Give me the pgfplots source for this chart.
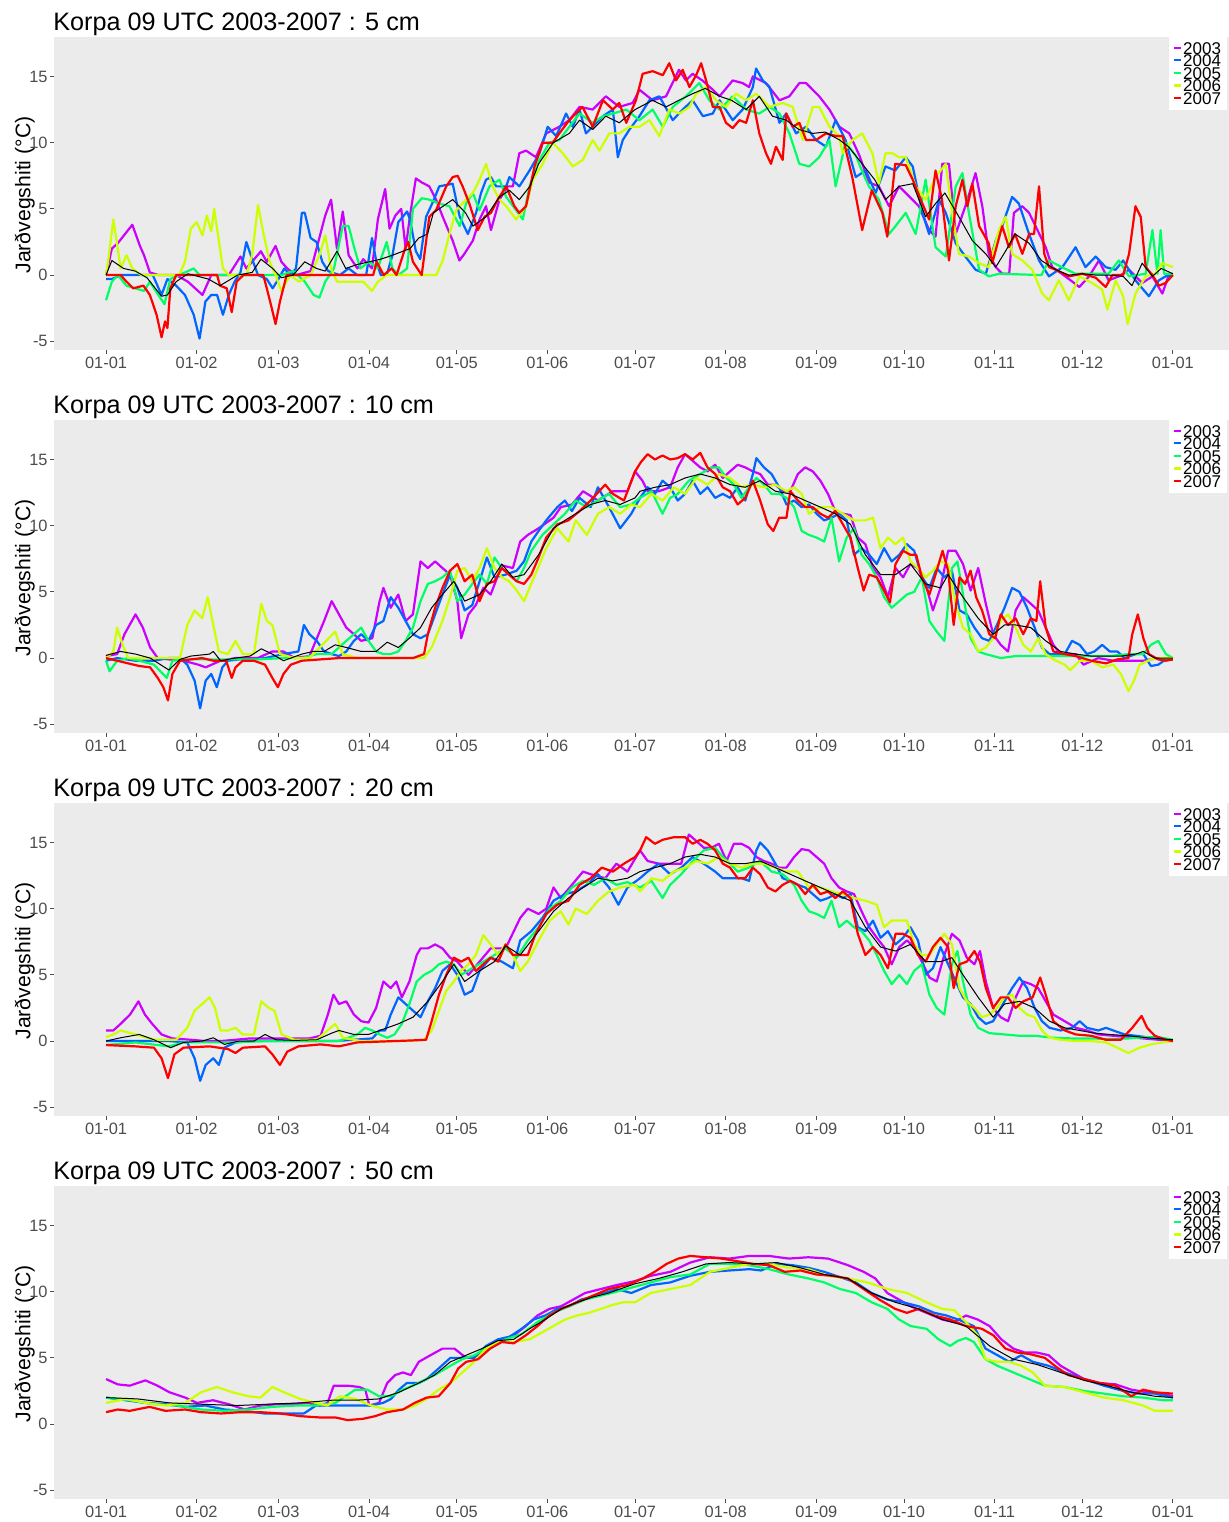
\documentclass[border=0pt]{standalone}
\usepackage{fontspec}
\setmainfont{Liberation Sans}
\usepackage{pgfplots}
\pgfplotsset{compat=1.18}
\definecolor{c03}{HTML}{CC00FF}
\definecolor{c04}{HTML}{0066FF}
\definecolor{c05}{HTML}{00FF66}
\definecolor{c06}{HTML}{CCFF00}
\definecolor{c07}{HTML}{FF0000}
\definecolor{bg}{HTML}{EBEBEB}
\definecolor{tk}{HTML}{4D4D4D}
\pgfplotsset{korpa/.style={
  scale only axis, width=587.5pt, height=156.5pt,
  xmin=-17.8, xmax=384.2, ymin=-5.66, ymax=17.98,
  axis background/.style={fill=bg},
  axis line style={draw=none},
  xtick={0,31,59,90,120,151,181,212,243,273,304,334,365},
  xticklabels={01-01,01-02,01-03,01-04,01-05,01-06,01-07,01-08,01-09,01-10,01-11,01-12,01-01},
  ytick={-5,0,5,10,15}, yticklabels={-5,0,5,10,15},
  tick pos=left, tick align=outside, major tick length=2pt,
  tick style={draw=tk, line width=0.4pt},
  ticklabel style={font=\fontsize{8.2}{9}\selectfont, text=tk},
  yticklabel style={inner sep=1pt},
  xticklabel style={inner sep=1.5pt},
  legend style={at={(axis description cs:1,1)}, anchor=north east, xshift=-1pt, yshift=1pt,
    draw=none, fill=white, inner xsep=2.3pt, inner ysep=3pt,
    font=\fontsize{8.5}{8.5}\selectfont, row sep=0pt, column sep=0pt,
    nodes={inner xsep=0.5pt, inner ysep=0pt, text height=6.3pt, text depth=0pt}, cells={anchor=west}},
  legend image code/.code={\draw[#1, line width=1.1pt] (0pt,0pt) -- (3.4pt,0pt);},
  legend entries={2003,2004,2005,2006,2007},
  every axis plot/.append style={line width=1.1pt, line join=round},
}}
\newcommand{\ptitle}[2]{\node[anchor=base west, inner sep=0pt, font=\fontsize{12.6}{14}\selectfont] at (26.5pt,{-15.35pt-#1*191.5pt}) {Korpa 09 UTC 2003-2007 : #2 cm};
\node[rotate=90, anchor=base, inner sep=0pt, font=\fontsize{10.6}{12}\selectfont] at (15.25pt,{-97.5pt-#1*191.5pt}) {Jarðvegshiti (°C)};}
\begin{document}
\begin{tikzpicture}
\path[use as bounding box] (0,0) rectangle (614.5pt,-761pt);
% ---------------- 5 cm
\ptitle{0}{5}
\begin{axis}[korpa, at={(27pt,-18.5pt)}, anchor=north west]
\addplot[c03] coordinates {(0,0)(2,2)(4,2.4)(9,3.8)(11.6,2.2)(13,1.5)(15,0.2)(18,0)(24,0)(28,-0.5)(33,-1.5)(36,0)(42,0)(46,1.4)(48,0.5)(53,1.8)(55,1)(58,2.2)(60,1)(62,0.5)(65,0)(70,0.3)(75,4.5)(77,5.7)(79,2)(81,4.8)(83,1.5)(86,0.5)(88,1.2)(91,0.5)(93,4.2)(95.5,6.5)(97,3.5)(99,4.5)(101,5)(102.5,2)(104,4.5)(106,7.3)(108,7)(110.6,6.7)(112.9,5.7)(115.2,4.4)(118.6,2.6)(120.9,1.1)(122.6,1.6)(125.5,2.6)(127.8,4.2)(130,5.2)(131.7,3.4)(134.6,5.7)(137.4,6.7)(139.2,6.7)(141.4,9.2)(143.7,9.4)(147.1,8.9)(150.6,10.7)(155.1,11.2)(158.5,11.7)(162,12.7)(166.5,12.5)(171,13.5)(175.6,12.7)(180.2,13)(182.5,14)(187,13.2)(191.6,13.5)(196,15.5)(198.4,14.7)(200.7,15.2)(204,14.7)(207.6,14)(209.9,13.5)(214.4,14.7)(217.8,14.5)(220,14.2)(221.3,15)(225.8,14.5)(230.4,13.2)(233.8,13.5)(237.2,14.5)(239.5,14.5)(244,13.5)(247.5,12.5)(250.9,11.2)(254.3,10.7)(257.8,9)(261,7)(264.4,6.7)(267.9,5.2)(271.3,6.7)(273.6,6.2)(278.1,5.2)(281.6,3.4)(283.8,2.9)(286.1,8.4)(288.4,8.4)(290.7,3.1)(294,5.2)(297.5,7.7)(299.8,5.2)(302,1.6)(304.4,0.6)(306.6,0.1)(309,0.1)(310.6,4.7)(313.5,5.2)(315.8,4.7)(318,3.7)(321.5,2.1)(323.7,0.6)(327,0.1)(333,-0.9)(336.3,-0.1)(339.7,1.1)(343,-0.4)(346.5,-0.1)(350,0.4)(354.5,-0.6)(358,-0.1)(361.4,-1.4)(363.6,0)(365,0)};
\addplot[c04] coordinates {(0,-0.3)(2,-0.3)(5,0)(16,0)(17,-0.5)(19,-1.5)(21,-0.3)(24,-0.8)(27,-1.5)(30,-3)(32,-4.8)(34,-2)(36,-1.5)(38,-1.5)(40,-3)(42,-1.5)(44,-0.5)(46,0.2)(48,2.5)(50,1.2)(52,0)(55,-0.3)(57,-1)(59,-0.3)(61,0.5)(63,0)(65,0.5)(67,4.7)(68,4.7)(70,2.8)(72,2.5)(74,1)(76,0.3)(80,0)(83,0.5)(86,0)(89,0)(91,2.8)(92.5,1)(94,0)(96,0)(98,1.5)(100,4)(103,4.8)(104,4.2)(106,1.8)(107.5,1.2)(109.5,4.4)(112,5.6)(114,6.7)(118.6,6.9)(121,4.4)(123.8,3.1)(126.6,4.7)(128.3,6.2)(130,7.2)(131.7,7.4)(133.5,6.7)(136.9,6.7)(138,7.4)(141.4,6.7)(144.9,7.9)(148.3,9.2)(151.1,11.2)(154,10.5)(157.4,12.2)(159.7,11.2)(162,12.5)(164.2,10.7)(166.5,11.2)(170,12)(173.4,12.5)(175.1,8.9)(176.8,10.2)(179.1,11)(182.5,12)(185.9,13.2)(189.3,13.5)(193.9,11.7)(197.3,12.5)(200.7,13.2)(204.2,12)(207.6,12.2)(209.9,13.2)(214.4,11.7)(217.8,12.5)(221.3,14.2)(222.4,15.6)(224.7,14.7)(227,14.2)(230.4,11.5)(232.7,12.2)(236.1,10.7)(239.5,11.2)(242.9,10.2)(246.3,9.7)(249.6,11.7)(253,10.2)(256.5,7.4)(259.9,7.9)(263.3,6.2)(266.7,8.2)(270,7.9)(273.6,8.9)(276,8.2)(279.3,4.7)(281.6,3.1)(285,5.7)(287.3,4.7)(290.7,2.4)(294,1.4)(297.5,0.4)(301,0.1)(304.4,2.6)(306.6,3.7)(310,5.9)(312.3,5.4)(315.8,3.1)(319.2,1.1)(322.6,-0.1)(327.2,0.6)(331.7,2.1)(335.1,0.6)(338.6,1.4)(342,0.6)(345.4,0.4)(348,1.1)(352.2,-0.4)(356.8,-1.6)(360.2,-0.4)(362.5,-0.1)(365,0)};
\addplot[c05] coordinates {(0,-1.9)(2,-0.5)(4,0)(7,-0.8)(10,-1)(13,-1.2)(15,-0.5)(17,-1.2)(20,-2.2)(22,-0.3)(25,0)(30,0.5)(32,0)(60,0)(64,0.3)(68,-0.5)(71,-1.5)(73,-1.7)(75,-0.5)(78,0.5)(81,3.7)(83,3.7)(85,2)(87,0.5)(90,1)(93,0.5)(96,2.5)(98,0.5)(100,0)(103,0.5)(105,5)(108,5.8)(110.6,5.7)(114,5.4)(117.5,5.2)(121,3.7)(123.2,5.4)(125.5,6.2)(127.8,4.9)(131.2,6.7)(134.6,7.2)(136.9,5.9)(140.3,4.9)(142.6,4.2)(144.9,6.7)(148.3,8.7)(151.7,10)(155.1,10.2)(158.5,11.2)(162,12.2)(166.5,11.5)(170,12)(173.4,12.2)(178,12.5)(182.5,11.7)(187,12.5)(190.5,11.2)(193.9,12.7)(198.4,13.5)(203,14.5)(206.4,13.2)(209.9,12.5)(214.4,13.5)(219,12.5)(223.5,12.2)(227,12.7)(230.4,12.2)(233.8,10.7)(237.2,8.4)(240.6,8.2)(244,8.9)(247.5,10.2)(249.6,6.7)(253,10)(256.6,9)(258,8.2)(261,6.7)(264.4,5.7)(267.9,3.1)(270.1,3.7)(273.6,4.7)(277,3.1)(280.4,7.2)(283.8,2.1)(287.3,1.4)(290.7,6.7)(293,7.7)(295.2,4.7)(298.7,0.4)(302,-0.1)(305.5,0.1)(320,0)(322.6,1.1)(327,0.6)(331.7,0.1)(343,0.1)(346.5,1.1)(350,-0.1)(355.7,0.1)(358,3.4)(359.7,0.1)(360.8,3.4)(362,0.1)(365,0.1)};
\addplot[c06] coordinates {(0,0)(1,1.5)(2.5,4.2)(4,2)(5,0.5)(7,1.5)(9,0.5)(12,0)(25,0)(27,1)(29,3.5)(31,4)(33,3)(34.5,4.5)(36,3.3)(37,5)(39,2)(40,0.5)(42,0)(48,0)(50,1.5)(52,5.3)(54,3)(56,1)(58,0)(60,-1.2)(63,0)(66,-0.5)(70,0)(73,1.5)(75,3)(77,0.5)(79,-0.5)(86,-0.5)(88,-0.5)(91,-1.2)(93,-0.5)(96,0)(113,0)(115.2,1.1)(117.5,3.1)(119.8,4.9)(123.2,5.7)(125.5,6.2)(127.8,7.2)(130,8.4)(132.3,6.7)(134.6,5.7)(136.9,5.2)(140.3,4.2)(143.7,5.2)(146,7.2)(149.4,8.4)(152.8,10)(156.3,9.2)(159.7,8.2)(163.1,8.7)(166.5,10.2)(168.8,9.4)(172.2,10.7)(175.6,10.7)(179.1,11.2)(182.5,11.2)(185.9,11.7)(189.3,10.5)(192.7,12.5)(196.2,12.2)(199.6,12.7)(201.9,13.7)(205.3,14.2)(208.7,13.2)(212.1,12.7)(215.6,13.7)(219,13.2)(222.4,13.7)(227,12.7)(231.5,13)(234.9,12.7)(238.4,10.2)(241.8,12.7)(244,12.7)(247.5,11.2)(250.8,10.5)(252,9.2)(255.4,10.2)(258.7,10.7)(262.2,9.2)(264.4,6.9)(266.7,9.2)(269,9.2)(271.3,8.9)(273.6,8.9)(277,6.7)(280.4,5.7)(283.8,7.4)(287.3,8.4)(289.5,4.7)(291.8,1.6)(295.2,1.4)(298.7,0.9)(302,0.6)(305.5,3.4)(307.8,4.4)(310,1.6)(313.5,1.1)(316.9,0.4)(320.3,-1.4)(322.6,-1.9)(326,-0.4)(329.4,-1.9)(333,-0.1)(337.4,-0.6)(340.8,-1.1)(342.6,-2.6)(345.4,-0.4)(348,-1.6)(349.5,-3.7)(352.2,-1.4)(355.7,-0.1)(359,0.1)(361.4,0.9)(365,0.6)};
\addplot[c07] coordinates {(0,0)(5,0)(7,-0.5)(9.3,-1)(12.8,-0.8)(15,-1.5)(17.3,-3)(19,-4.7)(20.2,-3.5)(21,-4)(22,-1)(24,0)(38,0)(39,-0.8)(41.3,-1)(43,-2.8)(44.7,-0.5)(47,0)(53.8,0)(55,-1)(56.7,-2.5)(58,-3.7)(59.5,-2)(61.8,0)(91.4,0)(92.6,1)(95,0)(97.7,0.5)(99.4,0)(102.3,2)(103.4,2.5)(105,1)(108,0)(110.6,4.4)(112.9,4.9)(116.4,6.7)(118.6,7.4)(120.3,7.5)(122,6.7)(124.3,5.4)(127.2,3.4)(129.5,4.4)(131.7,4.7)(134,5.7)(136.9,6.7)(139.7,5.2)(141.4,4.7)(143.7,5.2)(146.6,8.2)(149.4,10)(152.8,10)(155.1,10.7)(158.5,11.7)(163,12.7)(166.5,11.2)(170,13.2)(173.4,12.5)(175.6,13)(178,11.5)(181.3,13.2)(183.6,15.2)(187,15.4)(190.5,15.1)(192.7,16)(195,14.7)(197.3,15.5)(199.6,14.2)(201.9,15.1)(203.6,16)(205.3,14.7)(207.6,12.7)(209.9,12.7)(212.1,11.5)(214.4,11.1)(216.7,11.7)(219,11.5)(221.3,13.2)(223.5,10.7)(225.8,9.2)(227.5,8.4)(229.2,9.7)(231.5,8.7)(232.7,12.2)(234.9,11.2)(237.2,11.5)(239.5,10.2)(242.9,10.2)(246.3,10.7)(249.8,10.5)(252,10.5)(255.3,7.4)(258.7,3.4)(262,6.4)(265.6,4.7)(267.3,2.9)(270,8.4)(273.6,8.3)(276,7.2)(279.3,5.4)(281.6,4.2)(283.8,7.9)(286,5.7)(288.4,1.1)(290.7,5.2)(293,7.2)(294.7,5.2)(296.4,6.9)(298.7,3.7)(302,2.4)(303.2,0.9)(306.6,3.7)(308.9,2.1)(311,3.1)(313.5,1.6)(315.8,3.1)(317.5,3.1)(319.2,6.7)(321,1.6)(322.6,0.6)(325,0.4)(329.4,-0.1)(334,0.1)(338.6,-0.2)(342,-0.9)(344.3,0)(348,0)(350,1.6)(352.2,5.2)(354,4.4)(355.7,0.6)(358,0)(360.2,-0.8)(362.5,-0.6)(365,0)};
\addplot[black, line width=0.5pt, forget plot] coordinates {(0,0)(2,1.1)(6,0.5)(10,0.3)(14,-0.2)(19,-1.6)(21,-1.5)(24,-0.5)(28,0.1)(35,-0.3)(39,-0.8)(45,0)(50,0.2)(53,1.2)(57,0.5)(60,-0.2)(64,0)(68,1)(72,0.5)(75,0.3)(79,1.8)(82,0.5)(86,0.8)(90,1)(94,1.2)(98,1.5)(104,2)(107,2.8)(110,3.1)(112,4.7)(118.6,5.7)(123,4.7)(125.5,3.7)(130,4.4)(134.6,5.9)(138,6.4)(141.4,5.7)(145,6.7)(148,8.4)(153,10)(158.5,10.7)(162,11.7)(166.5,11)(171,12)(175.6,11.5)(181,12.5)(187,13.2)(191.6,12.7)(196,13.2)(200.7,13.7)(205,14.1)(210,13.5)(214,13.2)(219,12.5)(223.5,13.5)(228,12)(232.7,11.7)(237,11)(241.8,10.7)(246,10.8)(251,10.2)(254,9.7)(258.7,8.4)(263,7.2)(266.7,5.7)(271.3,6.7)(276,6.9)(280.4,4.4)(283.8,5.4)(287,6.2)(291.8,4.4)(296.4,2.6)(301,1.6)(304.4,0.6)(308,1.9)(311,3.1)(315.8,2.4)(320,1.1)(325,0.4)(329.4,0)(334,0.1)(338.6,0)(343,0)(348,-0.1)(351,-0.8)(354.5,0.9)(358,-0.1)(361,0.5)(365,0.1)};
\end{axis}
% ---------------- 10 cm
\ptitle{1}{10}
\begin{axis}[korpa, at={(27pt,-210pt)}, anchor=north west]
\addplot[c03] coordinates {(0,0.15)(3.8,0.3)(6.3,1.8)(10.1,3.3)(12.6,2.3)(15.1,0.8)(17.7,0)(21.5,-0.1)(26.5,-0.2)(31.6,-0.5)(34.1,-0.7)(39.2,-0.2)(44.3,0)(51.9,0)(56.9,0.5)(60.7,0.5)(64.5,0)(69.6,0.15)(74.6,2.8)(77.2,4.3)(79.7,3.3)(82.2,2.3)(84.8,1.8)(87.3,1.3)(91.1,1.5)(93.6,4.3)(94.9,5.3)(97.4,3.8)(100,4.8)(102.5,2.8)(105,3.3)(107.6,7.3)(110.1,6.8)(112.6,7.3)(115.1,6.8)(117.7,6.3)(120.2,4.3)(121.5,1.5)(124,3.3)(126.5,4)(129.1,5.3)(131.6,4.8)(135.4,7)(139.2,6.8)(141.7,8.8)(144.3,9.3)(148,9.8)(153.1,10.6)(155.6,11.4)(159.4,11.6)(163.2,12.6)(168.3,11.9)(173.4,12.6)(178.4,12.6)(181,14.1)(183.5,13.4)(185.3,12.6)(189.1,12.6)(193,12.9)(195.6,14.4)(198.1,15.4)(200.7,14.9)(203.3,14.4)(205.8,14.1)(208.4,14.6)(211,13.6)(213.5,14.1)(216.1,14.6)(218.7,14.4)(221.3,14.1)(223.8,13.9)(226.4,13.1)(229,13.1)(231.5,12.6)(234.1,12.6)(236.7,13.9)(239.2,14.4)(241.8,14.1)(244.4,13.4)(247,12.4)(249.5,11.1)(252.1,10.9)(254.7,10.8)(257.2,9.1)(259.8,8.6)(262.4,6.8)(265,6.1)(267.5,4.6)(270.1,6.8)(272.7,6.1)(275.2,7.1)(277.8,6.8)(280.4,5.6)(282.9,3.6)(285.5,5.3)(288.1,8.1)(290.7,8.1)(293.2,7.1)(295.8,5.1)(298.4,6.8)(301,4.1)(303.5,1.8)(306.1,1)(308.6,0.5)(311.2,3.6)(313.8,4.6)(316.4,4.1)(318.9,3.6)(321.5,2.3)(324.1,1)(326.6,0.3)(331.8,0.3)(334.4,-0.5)(339.5,0)(344.6,-0.2)(349.8,-0.2)(354.9,-0.2)(360,0)(365,-0.1)};
\addplot[c04] coordinates {(0,-0.2)(3.8,0)(10.1,-0.2)(16.4,-0.2)(21.5,0)(25.3,0)(27.8,-0.5)(30.3,-1.7)(32.2,-3.8)(34.1,-1.7)(36,-1.2)(37.9,-2.2)(39.8,-0.7)(41.7,-0.2)(45.5,-0.1)(50.6,-0.1)(54.4,0)(60.7,0.3)(65.8,0.5)(67.7,2.5)(69.6,1.8)(72.1,1.3)(74.6,0.5)(77.2,0.3)(79.7,0.15)(82.2,0.5)(84.8,1.3)(87.3,1.8)(89.8,1.3)(92.4,2.5)(94.9,2.8)(97.4,4.6)(100,3.8)(102.5,2.8)(105,1.8)(107.6,1.5)(110.1,1.8)(112.6,3.3)(115.1,4.8)(117.7,6.3)(120.2,5.3)(122.7,3.6)(125.3,4)(127.8,5.8)(130.3,7.6)(132.9,6.1)(136.7,6.3)(140.5,6.6)(143,7.3)(145.5,8.8)(148,9.6)(150.6,10.4)(154.4,11.4)(157,11.9)(159.4,11.1)(162,12.1)(165.8,11.4)(168.3,12.9)(172.1,11.4)(175.9,9.8)(179.7,10.9)(182.7,12.1)(185.3,12.9)(187.8,12.4)(190.4,13.4)(193,12.9)(195.6,11.9)(198.1,12.4)(200.7,13.4)(203.3,12.4)(205.8,12.9)(208.4,12.1)(211,12.4)(213.5,12.1)(216.1,12.9)(218.7,11.9)(221.3,13.9)(222.5,15.1)(225.1,14.4)(227.7,13.9)(230.3,12.9)(232.8,11.6)(235.4,11.9)(238,11.4)(240.5,11.6)(243.1,10.9)(245.7,10.4)(248.2,10.6)(250.8,10.9)(253.4,10.4)(255.9,7.8)(258.5,8.3)(261.1,7.8)(263.7,7.1)(266.2,8.3)(268.8,7.3)(271.4,7.8)(274,8.6)(276.5,8.1)(279.1,6.1)(281.7,5.3)(284.2,6.8)(286.8,6.1)(289.4,6.6)(292,3.6)(294.5,3.3)(297.1,2.3)(299.7,1.5)(302.2,1.3)(304.8,2.5)(307.4,3.8)(310,5.3)(312.5,5)(315.1,3.8)(317.7,2.3)(320.2,0.8)(322.8,0.3)(328,0.3)(330.5,1.3)(333.1,1)(335.6,0.3)(338.2,0.5)(340.8,1)(343.4,0.5)(346,0.5)(348.5,0)(352.3,0.3)(354.9,0.3)(357.5,-0.6)(360,-0.5)(362.6,-0.1)(365,-0.1)};
\addplot[c05] coordinates {(0,-0.2)(1.2,-1)(3.8,-0.2)(7.6,0)(11.4,-0.2)(16.4,-0.5)(20.8,-1.5)(22.7,-0.2)(26.5,-0.1)(35.4,-0.1)(44.3,-0.1)(51.9,-0.1)(60.7,0)(67,0)(72.1,0.3)(77.2,0.3)(82.2,1.3)(84.8,1.8)(87.3,2.3)(89.8,1.3)(92.4,0.5)(94.9,0.3)(97.4,0.3)(100,0.5)(102.5,1.3)(105,2.3)(107.6,4.3)(110.1,5.6)(112.6,5.8)(115.1,6.1)(117.7,6.6)(120.2,4.3)(122.7,4.8)(125.3,5.6)(127.8,6.3)(130.3,5.6)(132.9,7.6)(135.4,6.8)(137.9,6.3)(140.5,5.8)(143,6.8)(145.5,8.1)(149.3,9.3)(153.1,10.1)(157,10.9)(160.7,11.9)(164.5,11.4)(168.3,11.9)(172.1,12.4)(175.9,11.4)(179.7,11.6)(182.7,12.1)(186.6,12.6)(190.4,10.9)(193,12.1)(195.6,12.4)(199.4,13.4)(203.3,13.9)(207.1,14.4)(209.7,14.4)(212.3,13.6)(214.8,13.1)(217.4,12.1)(220,12.9)(222.5,13.6)(225.1,13.1)(227.7,12.4)(230.3,12.4)(232.8,12.1)(235.4,11.4)(238,9.6)(240.5,9.3)(243.1,9.1)(245.7,8.8)(248.2,10.6)(250.8,7.3)(253.4,9.1)(255.9,9.8)(258.5,7.8)(261.1,7.1)(263.7,6.1)(266.2,4.6)(268.8,3.8)(271.4,4.3)(274,4.8)(276.5,5)(279.1,6.1)(281.7,2.8)(284.2,2)(286.8,1.3)(289.4,6.8)(291.3,7.3)(293.2,4.8)(295.8,1.5)(298.4,0.5)(301,0.3)(306.1,0)(311.2,0.15)(317.7,0.15)(324.1,0.15)(330.5,0.15)(337,0.15)(343.4,0.15)(349.8,0.3)(354.9,0.3)(357.5,1)(360,1.3)(362.6,0.3)(365,0)};
\addplot[c06] coordinates {(0,0)(2.5,0.5)(3.8,2.3)(5.7,1)(7.6,0)(16.4,0)(25.3,0)(27.8,2.5)(30.3,3.6)(32.9,3)(34.8,4.6)(36.7,2.5)(38.6,0.5)(41.7,0.3)(44.3,1.3)(46.8,0.3)(50.6,0.3)(53.1,4.1)(55,2.8)(56.9,2.5)(59.5,0.3)(64.5,0)(69.6,0)(78.4,2)(81,0.3)(86,0)(92.4,0)(102.5,0)(108.8,0)(111.4,0.8)(115.1,2.8)(117.7,4.6)(120.2,6.6)(122.7,6.8)(125.3,5.8)(127.8,6.8)(130.3,8.3)(132.9,6.8)(135.4,6.1)(137.9,5.8)(140.5,5.1)(143,4.3)(146.8,6.3)(150.6,8.3)(154.4,9.8)(158.2,8.8)(160.7,10.4)(164.5,9.3)(168.3,10.9)(172.1,11.4)(175.9,10.9)(179.7,11.6)(182.7,11.4)(186.6,12.4)(190.4,11.9)(194.3,12.9)(198.1,12.4)(202,13.6)(205.8,13.1)(209.7,13.9)(213.5,13.6)(217.4,12.9)(221.3,13.1)(225.1,12.9)(229,13.1)(232.8,12.6)(235.4,12.9)(238,12.4)(240.5,10.9)(244.4,11.4)(248.2,11.4)(252.1,10.9)(255.9,10.4)(259.8,10.4)(262.4,10.6)(265,8.3)(267.5,9.1)(270.1,8.6)(272.7,9.1)(275.2,7.3)(277.8,6.8)(280.4,6.1)(282.9,6.6)(285.5,7.3)(288.1,7.1)(290.7,4.1)(293.2,2.3)(295.8,1.8)(298.4,0.5)(301,0.8)(303.5,1.5)(306.1,2.8)(308.6,3.3)(311.2,2.3)(313.8,1)(316.4,0.5)(318.9,1.5)(321.5,0.3)(324.1,-0.1)(328,-0.5)(329.9,-0.9)(333.1,-0.2)(337,-0.2)(340.8,-0.7)(344.6,-0.5)(347.2,-1.2)(349.8,-2.5)(351.7,-1.7)(353.6,-0.5)(357.5,-0.1)(361.4,0)(365,0)};
\addplot[c07] coordinates {(0,0)(3.8,-0.2)(7.6,-0.4)(11.4,-0.6)(15.1,-0.7)(17.7,-1.5)(19.6,-2.2)(21.2,-3.2)(22.7,-1.2)(25.3,-0.2)(29,-0.1)(32.9,0)(36.7,-0.2)(41.1,-0.2)(43,-1.5)(44.3,-0.7)(46.8,-0.2)(50.6,-0.2)(54.4,-0.5)(56.9,-1.5)(58.8,-2.2)(60.7,-1.2)(63.2,-0.5)(67,-0.2)(73.4,-0.1)(79.7,0)(105,0)(108.8,0.3)(110.1,1.8)(112.6,3.8)(115.1,5.3)(117.7,6.6)(120.2,7.1)(122.7,5.8)(125.3,6.3)(127.8,4.3)(130.3,5.6)(132.9,5.8)(135.4,6.8)(137.9,6.3)(140.5,5.8)(143,5.6)(145.5,6.3)(148,7.6)(150.6,9.1)(154.4,10.1)(158.2,10.4)(162,11.1)(165.8,11.9)(170.8,13.1)(173.4,12.4)(177.2,11.9)(181,14.1)(183,14.8)(185.3,15.4)(187.8,15)(190.4,15.3)(193,15)(195.6,15.1)(198.1,15.4)(200.7,15)(203.3,15.5)(205.8,14.4)(208.4,13.9)(211,12.9)(213.5,12.6)(216.1,11.6)(218.7,12.1)(221.3,13.4)(223.8,11.9)(226.4,10.1)(228.3,9.6)(230.3,10.6)(232.8,10.6)(234.1,12.6)(236.7,11.9)(239.2,11.4)(241.8,11.4)(244.4,10.9)(247,10.6)(249.5,11.1)(252.1,10.1)(254.7,9.1)(257.2,6.8)(259.2,5.1)(261.1,6.3)(263.7,6.1)(266.2,5.1)(268.2,4.2)(270.1,7.1)(272.7,8.1)(275.2,7.8)(277.2,7.8)(279.1,6.1)(281.7,4.8)(284.2,6.6)(286.2,8.1)(288.1,6.6)(290,2.5)(292,6.1)(293.9,5.6)(295.8,6.6)(297.7,4.6)(299.7,3.6)(302.2,1.8)(304.2,1.5)(306.1,3.3)(308.6,2.5)(311.2,3)(313.8,1.8)(316.4,3)(318.3,2.8)(319.6,5.8)(321.5,2.3)(324.1,0.5)(328,0.3)(331.8,0.15)(337,-0.2)(342.1,-0.4)(346,-0.1)(349.8,0)(351.1,1.8)(353,3.3)(354.9,1.5)(356.8,0.3)(360,-0.1)(362.6,-0.2)(365,-0.1)};
\addplot[black, line width=0.5pt, forget plot] coordinates {(0,0.2)(5,0.5)(10.1,0.3)(15.1,0)(21.5,-0.9)(25.3,-0.1)(29,0.15)(35.4,0.3)(36.7,0.5)(39.2,-0.2)(44.3,0)(49.3,0.15)(53.1,0.7)(56.9,0.3)(60.7,-0.2)(67,0.3)(70.8,0.5)(74.6,0.5)(78.4,1)(82.2,0.8)(87.3,0.5)(92.4,0.5)(96.2,1.2)(100,0.8)(103.8,1.5)(107.6,2.3)(111.4,3.8)(115.1,4.8)(119,5.8)(122.7,4.3)(127.8,4.8)(131.6,5.8)(135.4,7.1)(139.2,6.1)(143,6.3)(148,7.8)(153.1,9.8)(157,10.4)(160.7,10.9)(165.8,11.6)(170.8,11.9)(175.9,11.6)(181,12.1)(182.7,12.6)(187.8,12.9)(193,13.1)(198.1,13.6)(203.3,13.9)(208.4,13.6)(213.5,13.1)(218.7,12.9)(223.8,13.4)(229,12.6)(234.1,12.4)(239.2,11.9)(244.4,11.4)(249.5,10.9)(254.7,10.1)(259.8,7.8)(265,6.3)(270.1,6.3)(275.2,7.1)(280.4,5.6)(285.5,5.3)(288.1,6.3)(293.2,4.6)(298.4,3)(303.5,1.8)(307.4,2.5)(311.2,2.5)(316.4,2.3)(321.5,1.3)(326.6,0.5)(331.8,0.3)(337,0.15)(342.1,0.15)(347.2,0.15)(352.3,0.3)(354.9,0.5)(358.8,0)(365,0)};
\end{axis}
% ---------------- 20 cm
\ptitle{2}{20}
\begin{axis}[korpa, at={(27pt,-401.5pt)}, anchor=north west]
\addplot[c03] coordinates {(0,0.8)(2.5,0.8)(5,1.3)(8.2,2)(11.1,3)(13.3,2)(15.8,1.3)(19,0.5)(22.7,0.2)(29,0.1)(34.1,0)(39.2,0)(44.3,0.1)(49.3,0.2)(54.4,0.2)(59.5,0.2)(64.5,0.2)(69.6,0.2)(73.4,0.4)(75.9,2)(77.8,3.5)(79.7,2.8)(82.2,3)(84.8,2)(87.3,1.5)(89.8,1.4)(92.4,2.5)(94.9,4.5)(97.4,4)(99.3,4.5)(101.2,3.3)(103.8,4.5)(106.3,6.5)(107.6,7)(110.1,7)(112.6,7.3)(115.1,7)(117.7,6.3)(120.2,6)(124,5)(127.8,6)(131.6,7)(136.7,7)(141.7,9.3)(144.3,10)(148,9.6)(150.6,10)(153.1,11.6)(155.6,10.8)(159.4,11.8)(163.2,12.8)(165.8,12.6)(170.8,12.3)(174.6,13.4)(178.4,12.8)(182.7,14.4)(185.3,13.6)(189.1,13.4)(193,13.4)(196.8,13.4)(199.4,15.6)(202,15.1)(204.5,14.6)(207.1,14.6)(209.7,14.9)(212.3,13.6)(214.8,14.9)(217.4,14.9)(220,14.6)(222.5,13.9)(225.1,13.6)(227.7,13.4)(230.3,13.1)(232.8,13.1)(235.4,13.9)(238,14.5)(240.5,14.4)(243.1,13.9)(245.7,13.4)(248.2,12.3)(250.8,11.6)(253.4,11.3)(255.9,11.1)(258.5,9.8)(261.1,8.6)(263.7,7.8)(266.2,7.1)(268.8,5.8)(271.4,7.1)(274,7.6)(276.5,7.1)(279.1,6)(281.7,4.8)(284.2,4.5)(286.8,6.5)(289.4,8.1)(292,7.6)(294.5,6.3)(297.1,5.8)(299,6.8)(301,4.5)(303.5,2.5)(306.1,1.8)(308.6,1.5)(311.2,3.3)(313.8,4.5)(316.4,4.3)(318.9,4)(321.5,3)(324.1,2)(328,1.5)(331.8,1)(335.6,0.8)(339.5,0.5)(344.6,0.4)(349.8,0.3)(354.9,0.2)(360,0.1)(365,0)};
\addplot[c04] coordinates {(0,0)(10.1,0)(21.5,0)(27.8,-0.1)(30.3,-1.3)(32.2,-3)(34.1,-1.8)(36.7,-1.3)(38.6,-1.8)(40.5,-0.5)(44.3,-0.1)(50.6,0)(56.9,0)(64.5,0)(72.1,0)(78.4,0)(84.8,0.1)(91.1,0.2)(93.6,0.8)(95.5,0.8)(97.4,2)(100,3.3)(102.5,2.8)(105,2.3)(107.6,1.8)(110.1,3)(112.6,4)(115.1,5.3)(117.7,5.8)(120.2,5)(122.7,3.5)(125.3,3.8)(127.8,5.3)(131.6,6.3)(135.4,6)(139.2,5.5)(141.7,7.6)(145.5,8.3)(149.3,9.3)(153.1,10.6)(157,11.1)(160.7,11.3)(164.5,11.8)(168.3,12.6)(172.1,11.6)(175.3,10.3)(178.4,11.6)(182.7,12.3)(185.3,12.8)(189.1,13.4)(193,12.6)(196.8,13.1)(200.7,13.9)(204.5,13.4)(208.4,12.8)(211,12.3)(213.5,12.3)(217.4,12.3)(220,12.1)(222.5,14.4)(223.8,15)(226.4,14.4)(229,13.4)(231.5,12.3)(234.1,12.1)(236.7,11.8)(239.2,11.6)(241.8,11.1)(244.4,10.6)(247,10.8)(249.5,11.1)(252.1,10.8)(254.7,11.1)(257.2,8.6)(259.8,8.3)(262.4,9.1)(265,7.8)(267.5,8.3)(270.1,7.3)(272.7,7.8)(275.2,8.6)(277.8,7.6)(280.4,5)(282.9,5.5)(285.5,7.1)(288.1,5.8)(290.7,4.5)(293.2,3.3)(295.8,2.8)(298.4,1.8)(301,1.3)(303.5,1.5)(306.1,2.5)(310,4)(312.5,4.8)(315.1,4)(317.7,2.5)(320.2,1.5)(322.8,1)(326.6,0.8)(330.5,1)(333.1,1.5)(335.6,1)(339.5,0.8)(342.1,1)(344.6,0.8)(348.5,0.5)(352.3,0.4)(357.5,0.25)(365,0.05)};
\addplot[c05] coordinates {(0,-0.3)(10.1,-0.1)(21.5,-0.4)(26.5,-0.1)(41.7,-0.1)(54.4,0)(67,0)(79.7,0)(86,0.5)(88.6,1)(91.1,0.8)(93.6,0.5)(96.2,0.25)(98.7,0.5)(101.2,1.3)(103.8,2.8)(106.3,4.5)(108.8,5)(111.4,5.3)(113.9,5.8)(116.4,6)(119,5.8)(121.5,5)(125.3,5.5)(129.1,6)(132.9,6.5)(136.7,7)(140.5,6.3)(144.3,7.6)(148,8.6)(151.8,10)(155.6,10.6)(159.4,11.6)(163.2,12.1)(167,11.8)(170.8,12.3)(174.6,11.8)(178.4,12)(182.7,11.6)(186.6,12.1)(190.4,10.8)(193,11.8)(196.8,12.6)(200.7,13.6)(204.5,14.4)(208.4,14.6)(211,13.9)(213.5,13.4)(216.1,12.8)(220,13.1)(223.8,13.6)(227.7,12.8)(231.5,12.6)(235.4,11.8)(238,10.6)(240.5,9.8)(243.1,9.6)(245.7,9.3)(248.2,10.6)(250.8,8.6)(253.4,9.1)(255.9,8.6)(258.5,8.3)(261.1,7.6)(263.7,6.5)(266.2,5.3)(268.8,4.3)(271.4,5)(274,4.3)(276.5,5.3)(279.1,5.8)(281.7,3.5)(284.2,2.5)(286.8,2)(289.4,5.8)(291.3,6.8)(293.2,4.5)(295.8,2)(298.4,1)(302.2,0.6)(307.4,0.5)(312.5,0.4)(317.7,0.4)(324.1,0.25)(330.5,0.2)(337,0.2)(343.4,0.15)(349.8,0.2)(356.2,0.3)(360,0.3)(365,0.1)};
\addplot[c06] coordinates {(0,0.3)(2.5,0.5)(5,0.8)(10.1,0.5)(16.4,0.1)(24,0.1)(27.8,1)(30.3,2.3)(32.9,2.8)(35.4,3.3)(37.3,2.5)(39.2,0.8)(41.7,0.8)(44.3,1)(46.8,0.5)(50.6,0.5)(53.1,3)(55.7,2.5)(57.6,2.3)(60.1,0.5)(64.5,0.1)(72.1,0.1)(78.4,1.3)(81,0.25)(87.3,0)(94.9,0)(102.5,0)(108.8,0.1)(111.4,0.8)(113.9,2.3)(116.4,3.8)(119,4.5)(121.5,5.3)(124,5.8)(126.5,6.5)(129.1,8)(131.6,7.3)(134.2,6.5)(136.7,7.3)(139.2,6.5)(141.7,5.3)(144.3,6)(148,7.6)(151.8,9.1)(155.6,9.8)(158.2,8.8)(160.7,10)(164.5,9.6)(168.3,10.6)(172.1,11.3)(175.9,11.6)(181,11.8)(182.7,11.3)(186.6,12.3)(190.4,12.1)(194.3,12.8)(198.1,13.1)(202,13.6)(205.8,13.4)(209.7,13.9)(213.5,13.4)(217.4,13.1)(221.3,13.4)(225.1,13.4)(229,13.1)(232.8,12.8)(236.7,12.8)(240.5,11.6)(244.4,11.6)(248.2,11.3)(252.1,11.1)(255.9,10.8)(259.8,10.6)(263.7,10.3)(266.2,8.6)(268.8,9.1)(271.4,9.1)(274,9.1)(276.5,7.3)(279.1,6.5)(281.7,6.5)(284.2,7.3)(286.8,8.1)(289.4,7.3)(292,4)(294.5,3)(297.1,2.5)(299.7,1.8)(302.2,2)(304.8,2.5)(307.4,3.3)(310,3.5)(312.5,2.5)(315.1,2)(317.7,1.8)(320.2,0.8)(322.8,0.25)(326.6,0.1)(331.8,0)(337,0)(342.1,-0.1)(346,-0.5)(349.8,-0.9)(353.6,-0.5)(357.5,-0.25)(361.4,-0.1)(365,0)};
\addplot[c07] coordinates {(0,-0.3)(10.1,-0.4)(16.4,-0.5)(19,-1.3)(21.2,-2.8)(23.4,-1)(26.5,-0.5)(35.4,-0.4)(41.7,-0.6)(44.3,-0.9)(46.8,-0.5)(54.4,-0.4)(56.9,-1)(59.5,-1.8)(62,-0.8)(65.8,-0.4)(73.4,-0.25)(79.7,-0.4)(86,-0.1)(92.4,-0.05)(98.7,0)(105,0.05)(109.5,0.1)(111.4,1.5)(113.9,3.5)(116.4,5)(119,6.3)(121.5,6)(124,6.3)(126.5,5.3)(129.1,5.8)(131.6,6.3)(134.2,6)(136.7,7.3)(139.2,6.5)(141.7,6.5)(144.3,6.5)(146.8,8)(150.6,9.6)(154.4,10.3)(158.2,10.6)(162,11.8)(165.8,12.3)(169.6,13.1)(173.4,12.8)(177.2,13.4)(181,13.9)(182.7,14.4)(184.8,15.4)(187.8,14.9)(190.4,15.2)(194.3,15.4)(198.1,15.4)(200.7,14.9)(203.3,15.2)(205.8,14.9)(208.4,14.4)(211,13.4)(213.5,13.1)(216.1,12.3)(218.7,12.3)(221.3,13.1)(223.8,12.6)(226.4,11.6)(229,11.3)(231.5,11.8)(234.1,12.1)(236.7,11.8)(239.2,11.1)(241.8,11.8)(244.4,11.1)(247,11.3)(249.5,10.8)(252.1,11.3)(254.7,10.8)(257.2,8.1)(259.8,6.5)(262.4,7.1)(265,6.5)(267.5,5.5)(270.1,8.1)(272.7,8.1)(275.2,7.8)(277.8,6.5)(280.4,6)(282.9,7.1)(285.5,7.8)(288.1,7.1)(290,4)(292,5.8)(294.5,6)(297.1,6.8)(299,6)(301,4)(303.5,2.5)(306.1,3.3)(308.6,3.3)(311.2,2.5)(313.8,3)(317,3.3)(319.6,4.8)(321.5,3.5)(324.1,1.5)(328,0.8)(331.8,0.5)(337,0.4)(342.1,0.1)(347.2,0.1)(351.1,1)(354.3,1.9)(356.2,1)(358.8,0.4)(362.6,0.1)(365,0)};
\addplot[black, line width=0.5pt, forget plot] coordinates {(0,0)(5,0.25)(11.4,0.5)(16.4,0.1)(22.1,-0.5)(26.5,-0.1)(32.9,0)(36.7,0.25)(40.5,-0.25)(45.5,0)(50.6,0)(54.4,0.5)(58.2,0.1)(64.5,0.05)(72.1,0.1)(77.2,0.6)(79.7,0.8)(84.8,0.5)(89.8,0.5)(94.9,0.9)(100,1.3)(105,1.8)(110.1,3)(115.1,4.5)(119,5.8)(122.7,4.5)(127.8,5.3)(132.9,6)(136.7,7.2)(141.7,6.5)(148,8.3)(153.1,9.8)(158.2,10.8)(163.2,11.6)(168.3,12.3)(173.4,12.1)(178.4,12.3)(182.7,12.8)(187.8,13.1)(193,13.4)(198.1,13.9)(203.3,14.1)(208.4,13.9)(213.5,13.4)(218.7,13.4)(223.8,13.6)(229,13.1)(234.1,12.6)(239.2,12.1)(244.4,11.6)(249.5,11.1)(254.7,10.6)(259.8,8.6)(265,7.1)(270.1,6.8)(275.2,7.3)(280.4,6)(285.5,6)(289.4,6.3)(293.2,5)(298.4,3.3)(303.5,1.8)(307.4,2.8)(312.5,3)(317.7,2.5)(322.8,1.5)(328,1)(333.1,0.8)(338.2,0.6)(343.4,0.5)(349.8,0.4)(356.2,0.25)(365,0.1)};
\end{axis}
% ---------------- 50 cm
\ptitle{3}{50}
\begin{axis}[korpa, at={(27pt,-593pt)}, anchor=north west]
\addplot[c03] coordinates {(0,3.4)(4,3)(8.1,2.9)(13.5,3.3)(17.6,2.9)(21.7,2.4)(27.1,2)(31.1,1.6)(36.6,1.8)(42,1.5)(47.4,1.1)(52.8,1.4)(58.2,1.5)(63.7,1.5)(69.1,1.6)(73.1,1.4)(75.8,1.6)(77.9,2.9)(82.6,2.9)(86.7,2.8)(88.7,2.6)(90.1,1.4)(93.4,1.6)(96.2,3.1)(98.9,3.7)(101.6,3.9)(104.3,3.7)(107,4.7)(111,5.2)(115.1,5.7)(119.2,5.7)(123.2,5)(127.3,5.2)(131.4,5.9)(135.4,6.4)(139.5,6.7)(143.6,7.4)(147.6,8.2)(151.7,8.7)(155.7,8.9)(159.8,9.4)(163.9,9.9)(169.3,10.2)(174.7,10.5)(181,10.8)(186.4,11.2)(193.1,11.5)(199.9,12.2)(206.6,12.6)(213.3,12.5)(220.1,12.7)(226.8,12.7)(233.6,12.5)(240.3,12.6)(247,12.5)(253.8,12)(259.2,11.5)(263.2,11)(267.3,9.9)(271.3,9.4)(275.3,8.9)(280.7,8.4)(286.1,7.9)(290.2,7.7)(294.2,8.2)(298.2,7.9)(302.3,7.4)(306.3,6.4)(310.4,5.7)(314.4,5.4)(318.5,5.4)(322.5,5.2)(326.6,4.4)(330.6,3.9)(334.6,3.4)(340,3.1)(345.4,3)(350.8,2.6)(356.2,2.4)(361.6,2.3)(365,2.1)};
\addplot[c04] coordinates {(0,2)(6.8,1.8)(13.5,1.6)(20.3,1.5)(27.1,1.3)(33.9,1.4)(40.6,1.1)(47.4,1)(54.2,0.8)(60.9,0.8)(67.7,0.8)(71.8,1.4)(78.5,1.4)(85.3,1.4)(90.7,1.4)(94.8,1.6)(97.5,1.9)(100.2,2.6)(102.9,3.1)(107,3.1)(109.7,3.4)(113.8,4.2)(117.8,5)(121.9,5)(126,5)(130,5.9)(134.1,6.4)(138.1,6.6)(142.2,7.2)(146.3,7.9)(150.3,8.2)(154.4,8.7)(158.5,8.9)(162.5,9.4)(167.9,9.7)(174.7,10.2)(179.7,9.9)(186.4,10.5)(193.1,10.7)(199.9,11.2)(206.6,11.5)(213.3,11.6)(220.1,11.7)(224.1,11.6)(229.5,12.1)(234.9,12)(240.3,11.8)(245.7,11.5)(251.1,11.1)(256.5,10.7)(261.9,9.9)(267.3,9.4)(272.6,9.2)(278,8.9)(283.4,8.4)(287.5,8.2)(291.5,7.9)(296.9,7.4)(300.9,5.7)(305,5.2)(309,4.7)(313.1,5.2)(317.1,4.7)(322.5,4.4)(327.9,3.9)(334.6,3.4)(341.4,2.9)(348.1,2.5)(353.5,2.3)(358.9,2.3)(365,2)};
\addplot[c05] coordinates {(0,2)(8.1,1.8)(16.3,1.5)(24.4,1.4)(32.5,1.1)(40.6,1)(48.8,1.1)(56.9,1.3)(65,1.4)(71.8,1.4)(78.5,1.6)(85.3,2.6)(89.4,2.6)(93.4,2.1)(97.5,2.1)(101.6,2.6)(107,3.1)(112.4,3.7)(117.8,4.4)(121.9,4.9)(126,5.2)(131.4,5.9)(136.8,6.4)(142.2,6.8)(147.6,7.7)(153,8.4)(158.5,8.9)(163.9,9.4)(169.3,9.7)(174.7,10)(179.7,10.3)(186.4,10.7)(193.1,11.1)(199.9,11.3)(206.6,12.1)(213.3,12.1)(220.1,12)(226.8,11.7)(233.6,11.3)(240.3,11)(245.7,10.7)(251.1,10.2)(256.5,9.9)(261.9,9.2)(267.3,8.7)(271.3,7.9)(275.3,7.4)(280.7,7.2)(284.8,6.4)(288.8,5.9)(291.5,6.3)(294.2,6.5)(296.9,6.2)(300.9,4.9)(305,4.4)(310.4,3.9)(315.8,3.4)(321.2,2.9)(327.9,2.8)(334.6,2.5)(341.4,2.3)(348.1,2.1)(354.8,2)(361.6,1.8)(365,1.8)};
\addplot[c06] coordinates {(0,1.6)(6.8,1.9)(13.5,1.6)(20.3,1.4)(27.1,1.6)(32.5,2.4)(37.9,2.8)(43.3,2.4)(48.8,2.1)(52.8,2)(56.9,2.8)(60.9,2.4)(66.4,1.9)(71.8,1.6)(75.8,1.4)(79.9,2.1)(85.3,1.9)(90.7,1.4)(96.2,1.1)(101.6,1.1)(105.6,1.4)(109.7,1.9)(113.8,2.6)(117.8,3.1)(121.9,3.9)(126,4.7)(130,5.7)(134.1,6.2)(139.5,6.2)(144.9,6.4)(149,6.9)(153,7.4)(157.1,7.9)(161.2,8.2)(165.2,8.4)(169.3,8.7)(173.3,9)(177,9.2)(181,9.2)(186.4,9.9)(193.1,10.2)(199.9,10.5)(206.6,11.5)(213.3,11.8)(220.1,12.1)(226.8,12.1)(233.6,11.8)(240.3,11.7)(247,11.2)(253.8,11)(260.5,10.7)(267.3,10.2)(274,9.9)(280.7,9.2)(286.1,8.7)(290.2,8.6)(294.2,7.7)(298.2,6.7)(300.9,4.9)(305,4.7)(309,4.7)(313.1,4.4)(317.1,3.9)(321.2,2.9)(327.9,2.8)(334.6,2.4)(341.4,2)(348.1,1.8)(354.8,1.4)(358.9,1)(365,1)};
\addplot[c07] coordinates {(0,0.9)(4,1.1)(8.1,1)(14.9,1.3)(20.3,1)(27.1,1.1)(32.5,0.9)(39.3,0.8)(46,0.9)(52.8,0.9)(59.6,0.8)(66.4,0.6)(73.1,0.5)(78.5,0.5)(82.6,0.3)(88,0.4)(92.1,0.6)(96.2,0.9)(101.6,1.1)(105.6,1.6)(109.7,2)(113.8,2.1)(117.8,3.1)(120.5,4.2)(123.2,4.7)(127.3,4.9)(131.4,5.7)(135.4,6.2)(139.5,6.1)(143.6,6.7)(147.6,7.4)(151.7,8.2)(155.7,8.7)(161.2,9.2)(166.6,9.7)(172,10.2)(178.3,10.5)(183.7,11)(187.7,11.5)(191.8,12.1)(195.8,12.5)(199.9,12.7)(205.3,12.6)(210.6,12.5)(216,12.3)(221.4,12.1)(226.8,12)(232.2,11.5)(237.6,11.6)(243,11.3)(248.4,11.2)(253.8,11)(259.2,10.2)(264.6,9.4)(270,8.7)(274,8.4)(278,8.7)(283.4,8.2)(288.8,7.9)(294.2,7.4)(299.6,7.2)(303.6,6.7)(307.7,5.7)(311.7,5.4)(315.8,5.3)(321.2,5)(325.2,4.3)(329.2,3.7)(334.6,3.4)(340,3.1)(345.4,2.9)(350.8,2.1)(354.8,2.6)(358.9,2.4)(365,2.3)};
\addplot[black, line width=0.5pt, forget plot] coordinates {(0,2)(10.8,1.9)(21.7,1.6)(32.5,1.5)(44.7,1.4)(55.5,1.5)(66.4,1.6)(77.2,1.8)(85.3,1.8)(93.4,1.9)(100.2,2.4)(107,3.1)(112.4,3.7)(117.8,4.7)(123.2,5.2)(128.6,5.7)(134.1,6.3)(139.5,6.4)(144.9,7.2)(150.3,7.9)(155.7,8.7)(161.2,9.2)(166.6,9.6)(172,9.9)(181,10.6)(189.1,11)(197.2,11.5)(205.3,12.1)(213.3,12.2)(221.4,12.1)(229.5,12.2)(237.6,11.8)(245.7,11.3)(253.8,11)(261.9,9.9)(270,9.2)(278,8.7)(286.1,7.9)(294.2,7.4)(302.3,5.9)(310.4,4.9)(318.5,4.5)(326.6,3.9)(334.6,3.3)(342.7,2.9)(350.8,2.4)(358.9,2.1)(365,2)};
\end{axis}
\end{tikzpicture}
\end{document}
